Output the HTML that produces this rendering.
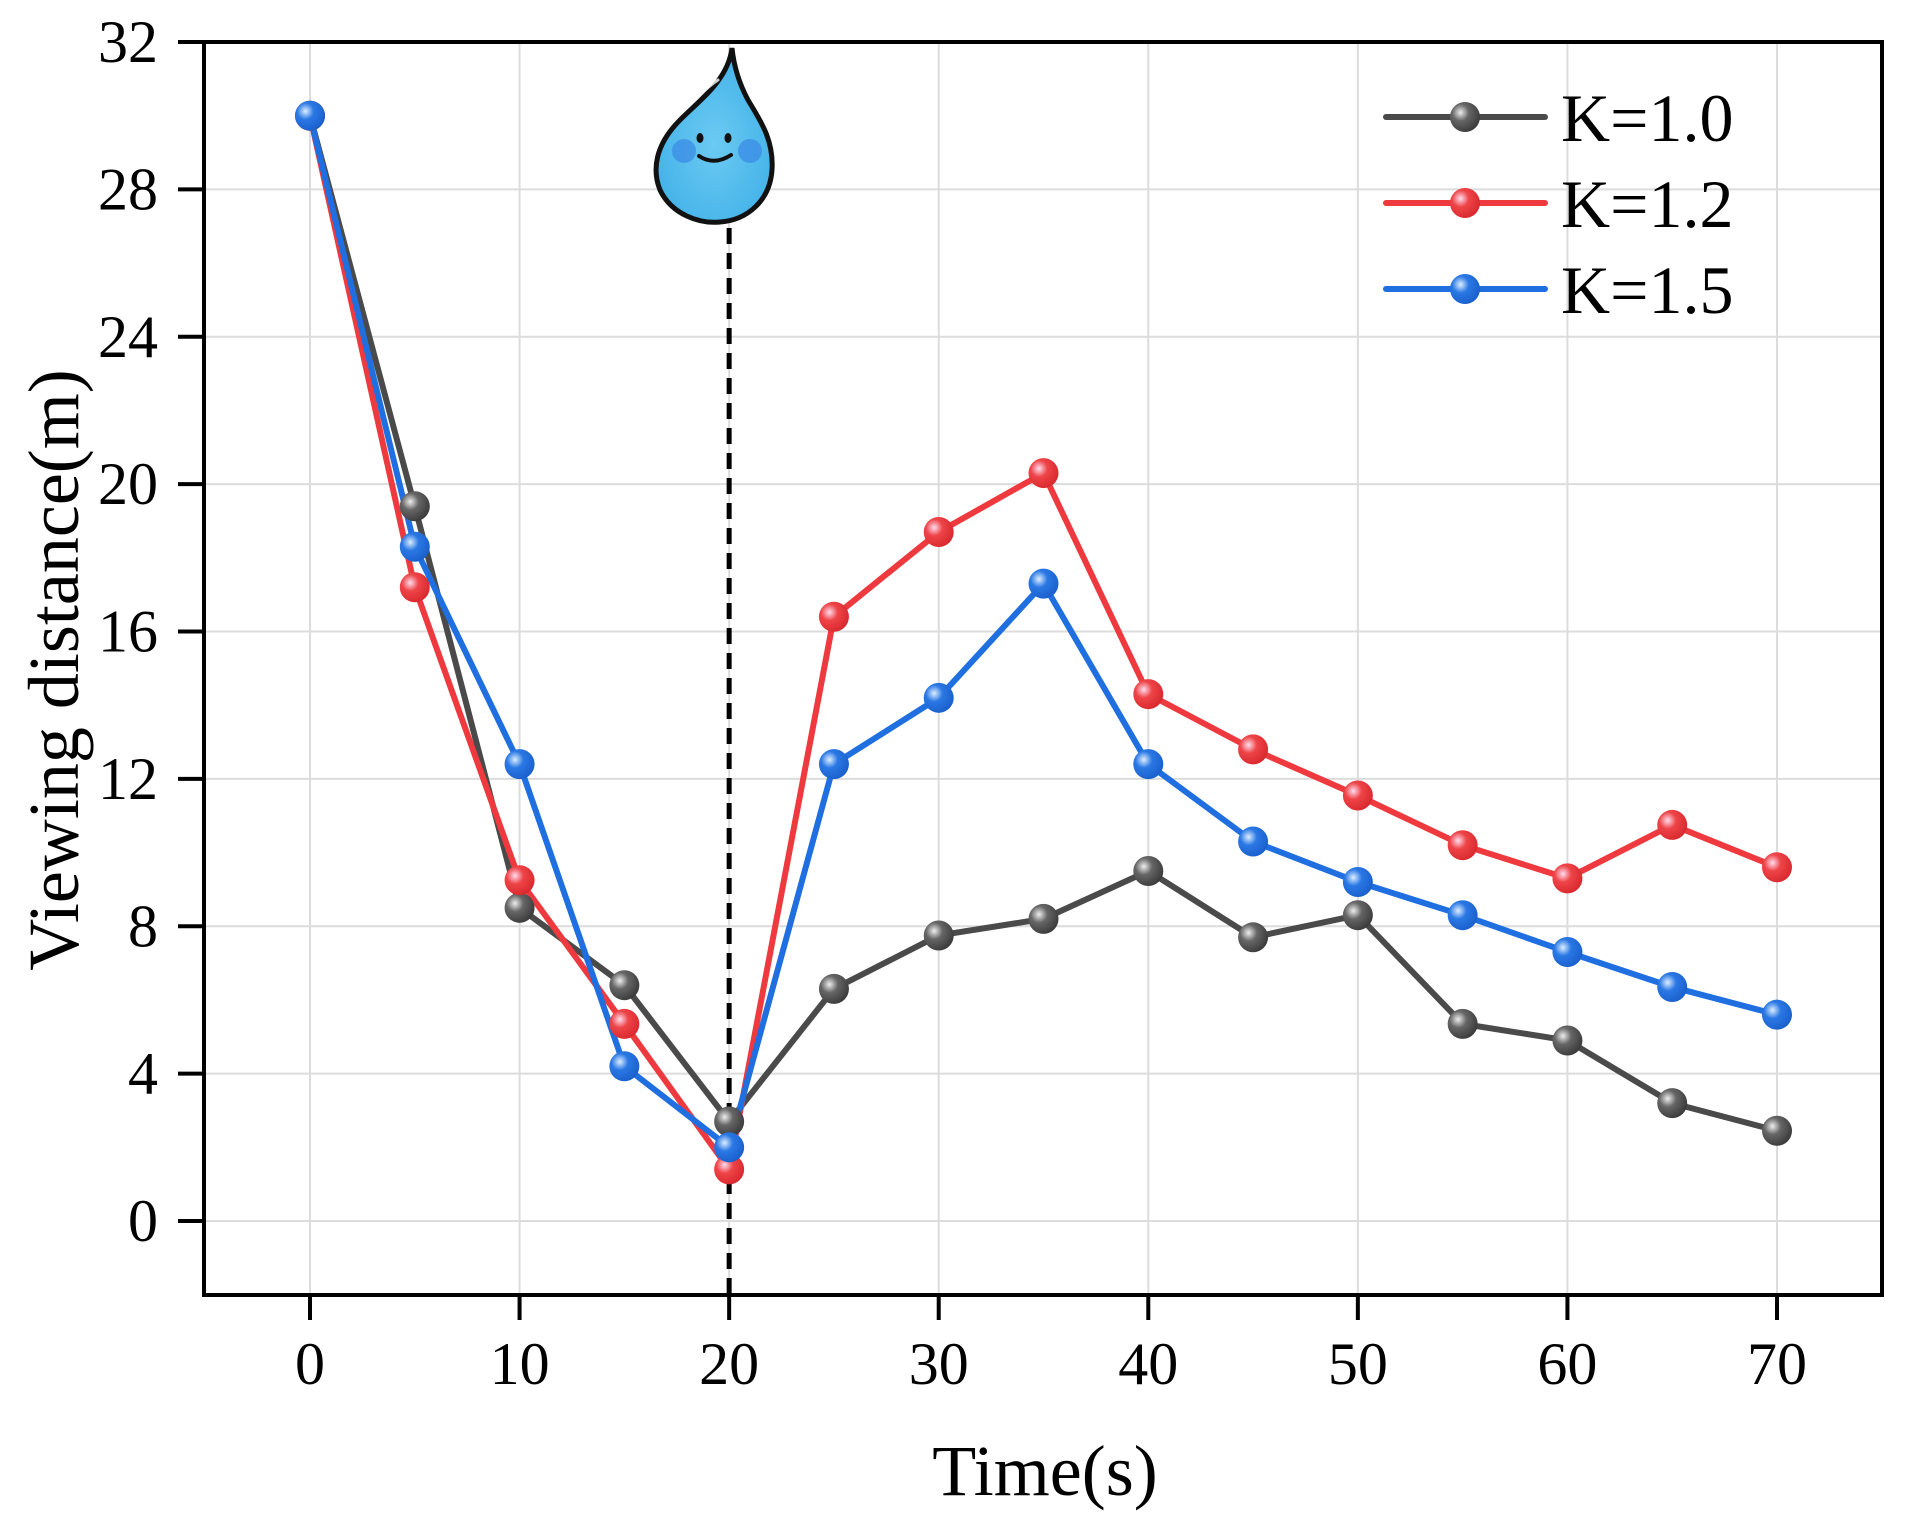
<!DOCTYPE html>
<html><head><meta charset="utf-8"><style>
html,body{margin:0;padding:0;background:#fff;}
svg{display:block;font-family:"Liberation Serif",serif;}
</style></head><body>
<svg id="chart" width="1910" height="1518" viewBox="0 0 1910 1518" xmlns="http://www.w3.org/2000/svg">
<defs>
<radialGradient id="gGray" cx="0.35" cy="0.35" r="0.7"><stop offset="0" stop-color="#eee"/><stop offset="0.4" stop-color="#666"/><stop offset="1" stop-color="#3a3a3a"/></radialGradient>
<radialGradient id="gRed" cx="0.35" cy="0.35" r="0.7"><stop offset="0" stop-color="#fde"/><stop offset="0.4" stop-color="#ee4448"/><stop offset="1" stop-color="#d8282e"/></radialGradient>
<radialGradient id="gBlue" cx="0.35" cy="0.35" r="0.7"><stop offset="0" stop-color="#def"/><stop offset="0.4" stop-color="#2a78e4"/><stop offset="1" stop-color="#1a5fcc"/></radialGradient>
<radialGradient id="gDrop" cx="0.5" cy="0.55" r="0.6"><stop offset="0" stop-color="#6ccaf2"/><stop offset="1" stop-color="#3fb0e8"/></radialGradient>
</defs>
<g id="grid"></g>
<g id="axes"></g>
<g id="series"></g>
<g id="legend"></g>
<g>
<path d="M732,48 C728,80 700,100 680,120 C655,145 652,170 660,190 C672,215 700,224 720,222 C748,220 770,200 772,170 C774,140 760,120 748,100 C740,85 734,68 732,48 Z" fill="url(#gDrop)" stroke="#111" stroke-width="5"/>
<circle cx="684" cy="151" r="12" fill="#3d8fe6" opacity="0.8"/>
<circle cx="750" cy="151" r="12" fill="#3d8fe6" opacity="0.8"/>
<ellipse cx="700" cy="138" rx="3.5" ry="5" fill="#111"/>
<ellipse cx="728" cy="138" rx="3.5" ry="5" fill="#111"/>
<path d="M699,156 Q714,166 731,155" fill="none" stroke="#111" stroke-width="4" stroke-linecap="round"/>
<path d="M700,95 Q710,85 718,80" fill="none" stroke="#fff" stroke-width="3" stroke-linecap="round" opacity="0.8"/>
</g>
<text x="1045" y="1495" font-size="72" text-anchor="middle">Time(s)</text>
<text transform="translate(78,670) rotate(-90)" font-size="72" text-anchor="middle">Viewing distance(m)</text>
</svg>
<script>
const xValues=[0,5,10,15,20,25,30,35,40,45,50,55,60,65,70];
const k10=[30,19.4,8.5,6.4,2.7,6.3,7.75,8.2,9.5,7.7,8.3,5.35,4.9,3.2,2.45];
const k12=[30,17.2,9.25,5.35,1.4,16.4,18.7,20.3,14.3,12.8,11.55,10.2,9.3,10.75,9.6];
const k15=[30,18.3,12.4,4.2,2.0,12.4,14.2,17.3,12.4,10.3,9.2,8.3,7.3,6.35,5.6];
const xTicks=[0,10,20,30,40,50,60,70];
const yTicks=[0,4,8,12,16,20,24,28,32];
const seriesNames=["K=1.0","K=1.2","K=1.5"];
const eventTime=20;

const NS="http://www.w3.org/2000/svg";
const L=204,R=1882,T=42,B=1295;
function X(v){return 310+v*(1777-310)/70;}
function Y(v){return 1221-v*(1221-42)/32;}
function mk(tag,attrs,parent){const e=document.createElementNS(NS,tag);for(const k in attrs)e.setAttribute(k,attrs[k]);parent.appendChild(e);return e;}
const grid=document.getElementById('grid'),axes=document.getElementById('axes'),ser=document.getElementById('series'),leg=document.getElementById('legend');
xTicks.forEach(t=>{
  const g=mk('line',{x1:X(t),x2:X(t),y1:T,y2:B,stroke:'#dcdcdc','stroke-width':2},grid);
  
  
  const tk=mk('line',{x1:X(t),x2:X(t),y1:B,y2:B+25,stroke:'#000','stroke-width':4},axes);
  
  
  const tx=mk('text',{x:X(t),y:1384,'font-size':60,'text-anchor':'middle'},axes);tx.textContent=t;
  
  
});
yTicks.forEach(t=>{
  const g=mk('line',{x1:L,x2:R,y1:Y(t),y2:Y(t),stroke:'#dcdcdc','stroke-width':2},grid);
  
  
  const tk=mk('line',{x1:178,x2:L,y1:Y(t),y2:Y(t),stroke:'#000','stroke-width':4},axes);
  
  
  const tx=mk('text',{x:158,y:Y(t)+20,'font-size':60,'text-anchor':'end'},axes);tx.textContent=t;
  
  
});
const frame=mk('rect',{x:L,y:T,width:R-L,height:B-T,fill:'none',stroke:'#000','stroke-width':4},axes);


const ev=mk('line',{x1:X(eventTime),x2:X(eventTime),y1:228,y2:B,stroke:'#000','stroke-width':5,'stroke-dasharray':'16 9'},ser);


const data=[k10,k12,k15],cols=['#4a4a4a','#ee3a3f','#1f6fe0'],grads=['url(#gGray)','url(#gRed)','url(#gBlue)'];
data.forEach((d,i)=>{
  const pts=d.map((v,j)=>X(xValues[j])+','+Y(v)).join(' ');
  const pl=mk('polyline',{points:pts,fill:'none',stroke:cols[i],'stroke-width':6,'stroke-linejoin':'round'},ser);
  
  
});
data.forEach((d,i)=>{
  d.forEach((v,j)=>{
    const c=mk('circle',{cx:X(xValues[j]),cy:Y(v),r:15,fill:grads[i]},ser);
    
    
  });
});
[117,203,289].forEach((y,i)=>{
  const l=mk('line',{x1:1386,x2:1545,y1:y,y2:y,stroke:cols[i],'stroke-width':6,'stroke-linecap':'round'},leg);
  
  
  const c=mk('circle',{cx:1465,cy:y,r:15,fill:grads[i]},leg);
  
  
  const t=mk('text',{x:1561,y:y+24,'font-size':68},leg);t.textContent=seriesNames[i];
  
  
});
</script>
</body></html>
